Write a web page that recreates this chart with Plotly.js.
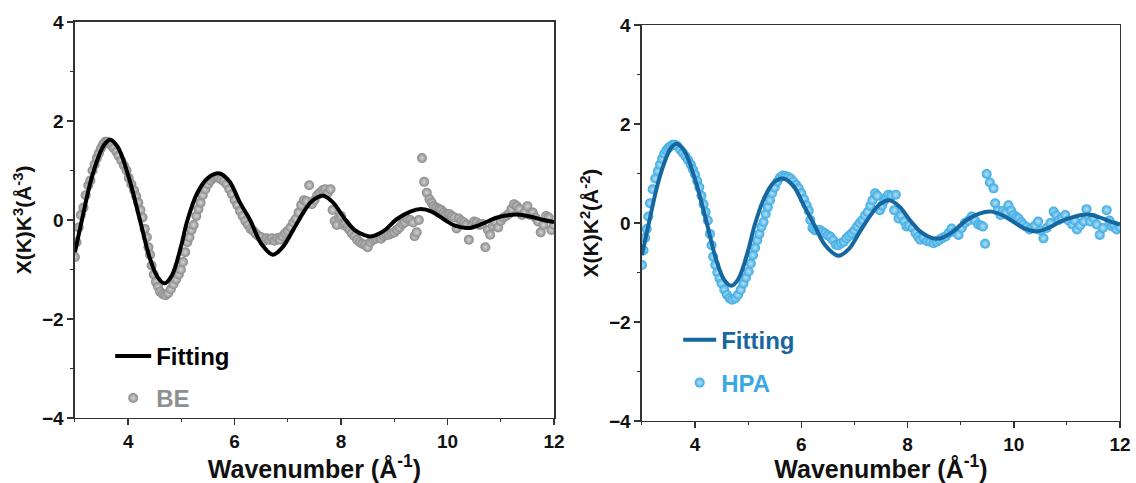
<!DOCTYPE html>
<html>
<head>
<meta charset="utf-8">
<script src="https://cdn.plot.ly/plotly-3.0.1.min.js"></script>
<style>html,body{margin:0;padding:0;background:#fff;}#chart{width:1136px;height:483px;}</style>
</head>
<body>
<div id="chart"></div>
<script>
// ---- Left panel: BE (k^3 weighted) ----
const beK = [3.00,3.03,3.07,3.11,3.16,3.20,3.25,3.29,3.33,3.37,3.41,3.45,3.49,3.53,3.57,3.61,3.65,3.69,3.73,3.78,3.82,3.87,3.92,3.97,4.01,4.06,4.11,4.15,4.19,4.23,4.27,4.31,4.35,4.38,4.41,4.44,4.48,4.52,4.56,4.60,4.65,4.70,4.75,4.80,4.85,4.90,4.95,4.99,5.03,5.07,5.11,5.15,5.19,5.23,5.28,5.32,5.36,5.40,5.45,5.50,5.55,5.60,5.65,5.70,5.75,5.80,5.85,5.90,5.95,6.00,6.05,6.10,6.15,6.20,6.25,6.30,6.35,6.40,6.45,6.50,6.55,6.60,6.65,6.70,6.75,6.80,6.85,6.90,6.95,7.00,7.05,7.10,7.15,7.20,7.25,7.30,7.35,7.40,7.45,7.50,7.55,7.60,7.65,7.70,7.75,7.80,7.84,7.88,7.92,7.96,8.00,8.04,8.08,8.12,8.16,8.20,8.25,8.30,8.35,8.40,8.45,8.50,8.55,8.60,8.65,8.70,8.75,8.80,8.85,8.90,8.95,9.00,9.05,9.10,9.15,9.20,9.25,9.30,9.35,9.38,9.42,9.46,9.52,9.56,9.61,9.66,9.70,9.74,9.79,9.84,9.88,9.93,9.98,10.03,10.08,10.13,10.17,10.21,10.26,10.31,10.35,10.40,10.45,10.50,10.55,10.60,10.65,10.71,10.76,10.80,10.85,10.90,10.95,11.00,11.05,11.10,11.15,11.20,11.25,11.30,11.35,11.40,11.45,11.50,11.55,11.60,11.65,11.70,11.75,11.80,11.85,11.90,11.95,12.00];
const beChi = [-0.75,-0.45,-0.15,0.10,0.25,0.50,0.70,0.80,1.00,1.12,1.25,1.35,1.45,1.53,1.58,1.58,1.55,1.50,1.45,1.38,1.30,1.20,1.10,1.00,0.85,0.72,0.60,0.48,0.35,0.20,0.05,-0.18,-0.35,-0.55,-0.70,-0.92,-1.10,-1.25,-1.35,-1.45,-1.50,-1.52,-1.48,-1.40,-1.30,-1.20,-1.10,-1.00,-0.85,-0.65,-0.45,-0.35,-0.20,-0.10,0.08,0.22,0.35,0.50,0.62,0.72,0.80,0.85,0.87,0.85,0.82,0.78,0.72,0.62,0.52,0.40,0.30,0.18,0.08,-0.02,-0.10,-0.18,-0.22,-0.28,-0.33,-0.35,-0.42,-0.37,-0.40,-0.37,-0.42,-0.37,-0.40,-0.33,-0.27,-0.22,-0.15,-0.05,0.02,0.15,0.30,0.40,0.38,0.70,0.32,0.40,0.50,0.55,0.60,0.62,0.55,0.62,0.20,-0.02,-0.10,0.05,0.08,-0.10,-0.08,-0.15,-0.20,-0.27,-0.33,-0.40,-0.45,-0.48,-0.50,-0.55,-0.45,-0.40,-0.38,-0.35,-0.38,-0.33,-0.30,-0.30,-0.27,-0.25,-0.20,-0.15,-0.08,-0.05,0.02,0.00,-0.05,-0.33,-0.25,0.00,1.25,0.77,0.55,0.42,0.35,0.28,0.25,0.22,0.20,0.15,0.12,0.12,0.08,0.05,-0.17,0.03,-0.02,-0.05,-0.10,-0.40,-0.10,-0.03,-0.05,-0.10,-0.08,-0.55,-0.20,-0.30,-0.12,-0.05,-0.15,-0.02,0.05,0.08,0.12,0.22,0.32,0.28,0.22,0.10,0.15,0.28,0.10,0.15,0.05,-0.03,-0.25,-0.10,0.08,0.05,-0.20,-0.10];
const beFitK = [3.00,3.13,3.30,3.45,3.55,3.66,3.80,4.00,4.22,4.40,4.55,4.68,4.82,5.00,5.10,5.30,5.50,5.72,5.90,6.10,6.29,6.50,6.72,6.90,7.10,7.29,7.45,7.66,7.85,8.05,8.25,8.45,8.58,8.80,9.05,9.30,9.50,9.70,9.95,10.15,10.40,10.65,10.90,11.10,11.30,11.55,11.80,12.00];
const beFitChi = [-0.65,0.00,0.80,1.30,1.52,1.62,1.48,0.90,0.00,-0.75,-1.15,-1.28,-1.12,-0.50,-0.05,0.55,0.85,0.94,0.78,0.35,0.00,-0.48,-0.70,-0.55,-0.20,0.15,0.38,0.49,0.35,0.05,-0.20,-0.31,-0.33,-0.22,0.02,0.17,0.22,0.17,0.00,-0.12,-0.16,-0.08,0.04,0.09,0.11,0.07,0.00,-0.04];

// ---- Right panel: HPA (k^2 weighted) ----
const hpaK = [3.00,3.03,3.06,3.09,3.12,3.15,3.20,3.25,3.30,3.34,3.38,3.42,3.46,3.50,3.54,3.58,3.62,3.67,3.72,3.77,3.82,3.87,3.92,3.96,4.00,4.04,4.08,4.12,4.16,4.20,4.24,4.28,4.31,4.34,4.38,4.42,4.46,4.50,4.55,4.60,4.65,4.70,4.76,4.81,4.86,4.91,4.96,5.01,5.05,5.09,5.13,5.17,5.21,5.25,5.29,5.33,5.37,5.41,5.45,5.50,5.55,5.60,5.65,5.70,5.75,5.80,5.85,5.90,5.95,6.00,6.05,6.10,6.14,6.17,6.21,6.25,6.30,6.35,6.40,6.45,6.50,6.55,6.60,6.65,6.70,6.75,6.80,6.85,6.90,6.95,7.00,7.05,7.10,7.15,7.20,7.25,7.30,7.34,7.39,7.43,7.48,7.52,7.56,7.60,7.64,7.70,7.75,7.78,7.83,7.88,7.94,7.98,8.03,8.10,8.15,8.20,8.24,8.30,8.37,8.43,8.49,8.55,8.60,8.66,8.72,8.78,8.83,8.90,8.96,9.02,9.08,9.15,9.21,9.27,9.33,9.38,9.42,9.46,9.49,9.55,9.62,9.65,9.70,9.75,9.80,9.85,9.90,9.95,10.00,10.05,10.09,10.14,10.18,10.24,10.30,10.35,10.40,10.46,10.51,10.56,10.62,10.69,10.75,10.80,10.85,10.91,10.97,11.03,11.10,11.15,11.19,11.25,11.32,11.37,11.44,11.50,11.56,11.62,11.68,11.75,11.80,11.85,11.90,11.94,12.00];
const hpaChi = [-0.85,-0.55,-0.30,-0.12,0.13,0.40,0.68,0.90,1.05,1.18,1.30,1.40,1.47,1.52,1.55,1.58,1.58,1.55,1.48,1.42,1.35,1.27,1.18,1.08,0.98,0.85,0.72,0.55,0.38,0.22,0.05,-0.22,-0.45,-0.68,-0.85,-1.00,-1.12,-1.22,-1.35,-1.45,-1.52,-1.55,-1.52,-1.45,-1.35,-1.22,-1.10,-0.98,-0.82,-0.65,-0.50,-0.35,-0.22,-0.08,0.02,0.18,0.32,0.46,0.60,0.72,0.84,0.92,0.96,0.95,0.93,0.90,0.84,0.77,0.70,0.60,0.48,0.36,0.25,0.06,-0.10,-0.14,-0.15,-0.14,-0.18,-0.21,-0.25,-0.28,-0.35,-0.44,-0.45,-0.41,-0.38,-0.31,-0.26,-0.21,-0.15,-0.07,0.00,0.06,0.15,0.22,0.35,0.46,0.60,0.55,0.26,0.35,0.45,0.52,0.57,0.55,0.26,0.57,0.09,0.15,0.03,-0.07,-0.05,-0.10,-0.20,-0.28,-0.34,-0.30,-0.37,-0.38,-0.41,-0.38,-0.34,-0.30,-0.27,-0.20,-0.11,-0.18,-0.24,-0.10,0.00,0.05,0.13,0.05,-0.03,-0.05,-0.07,-0.42,0.99,0.82,0.70,0.40,0.25,0.16,0.25,0.20,0.36,0.25,0.16,0.12,0.09,0.02,-0.03,-0.08,-0.13,-0.10,-0.05,0.03,-0.15,-0.31,-0.10,0.00,0.23,0.15,0.06,0.10,0.16,0.05,-0.03,0.05,-0.13,-0.05,0.03,0.28,0.03,0.10,-0.03,-0.24,-0.10,0.26,0.05,-0.07,-0.05,-0.13,-0.08];
const hpaFitK = [3.00,3.13,3.30,3.45,3.55,3.65,3.80,4.00,4.22,4.40,4.55,4.68,4.82,5.00,5.12,5.30,5.48,5.66,5.85,6.05,6.25,6.45,6.70,6.90,7.10,7.30,7.48,7.66,7.85,8.05,8.25,8.45,8.62,8.85,9.10,9.35,9.58,9.80,10.00,10.20,10.43,10.65,10.90,11.15,11.38,11.60,11.80,12.00];
const hpaFitChi = [-0.65,0.00,0.80,1.30,1.52,1.60,1.45,0.88,0.00,-0.75,-1.15,-1.27,-1.12,-0.55,-0.05,0.50,0.82,0.90,0.75,0.35,-0.05,-0.45,-0.66,-0.52,-0.18,0.15,0.38,0.46,0.33,0.05,-0.18,-0.30,-0.31,-0.18,0.05,0.19,0.23,0.15,0.02,-0.11,-0.17,-0.10,0.04,0.13,0.17,0.12,0.04,-0.03];

const xTickVals = [4,6,8,10,12];
const yTickVals = [-4,-2,0,2,4];
const yTickText = ['\u22124','\u22122','0','2','4'];

const FONT = 'Liberation Sans, Arial, sans-serif';
const BLACK = '#111111';

const traces = [
  {x: beFitK, y: beFitChi, type:'scatter', mode:'lines', name:'Fitting', xaxis:'x', yaxis:'y', legend:'legend',
   line:{color:'#000000', width:4, shape:'spline', smoothing:1}},
  {x: beK, y: beChi, type:'scatter', mode:'markers', name:'BE', xaxis:'x', yaxis:'y', legend:'legend2',
   marker:{color:'#8a8a8a', size:10, gradient:{type:'radial', color:'#d4d4d4'}, line:{width:0}}},
  {x: hpaFitK, y: hpaFitChi, type:'scatter', mode:'lines', name:'Fitting', xaxis:'x2', yaxis:'y2', legend:'legend3',
   line:{color:'#16679f', width:4, shape:'spline', smoothing:1}},
  {x: hpaK, y: hpaChi, type:'scatter', mode:'markers', name:'HPA', xaxis:'x2', yaxis:'y2', legend:'legend4',
   marker:{color:'#3aa9e2', size:10, gradient:{type:'radial', color:'#b5e2f8'}, line:{width:0}}}
];
// draw markers below fit lines
const ordered = [traces[1], traces[0], traces[3], traces[2]];

function xax(domain, anchor){
  return {domain: domain, anchor: anchor, range:[3,12], tickvals: xTickVals, ticks:'outside', ticklen:6, tickwidth:1.5,
    tickcolor:'#333', showline:true, linecolor:'#333', linewidth:1.5, mirror:true, showgrid:false, zeroline:false,
    tickfont:{family:FONT, size:19, color:BLACK, weight:'bold'},
    minor:{dtick:1, tick0:3, ticks:'outside', ticklen:3, tickcolor:'#333', tickwidth:1},
    title:{text:'Wavenumber (\u00c5<sup>-1</sup>)', font:{family:FONT, size:25, color:BLACK, weight:'bold'}, standoff:4}};
}
function yax(domain, anchor, title){
  return {domain: domain, anchor: anchor, range:[-4,4], tickvals: yTickVals, ticktext: yTickText, ticks:'outside', ticklen:6, tickwidth:1.5,
    tickcolor:'#333', showline:true, linecolor:'#333', linewidth:1.5, mirror:true, showgrid:false, zeroline:false,
    tickfont:{family:FONT, size:19, color:BLACK, weight:'bold'},
    minor:{dtick:1, tick0:-4, ticks:'outside', ticklen:3, tickcolor:'#333', tickwidth:1},
    title:{text:title, font:{family:FONT, size:21, color:BLACK, weight:'bold'}, standoff:4}};
}
function leg(x, y, color, iw){
  return {x:x, y:y, xanchor:'left', yanchor:'middle', bgcolor:'rgba(0,0,0,0)', borderwidth:0,
    font:{family:FONT, size:24, color:color, weight:'bold'}, itemwidth:iw, tracegroupgap:0};
}

const layout = {
  width:1136, height:483, margin:{l:0, r:0, t:0, b:0}, paper_bgcolor:'#ffffff', plot_bgcolor:'#ffffff',
  showlegend:true,
  xaxis: xax([0.066, 0.4877], 'y'),
  yaxis: yax([0.1346, 0.9545], 'x', 'X(K)K<sup>3</sup>(\u00c5<sup>-3</sup>)'),
  xaxis2: xax([0.5651, 0.9859], 'y2'),
  yaxis2: yax([0.1284, 0.9482], 'x2', 'X(K)K<sup>2</sup>(\u00c5<sup>-2</sup>)'),
  legend: leg(0.097, 0.262, '#000000', 36),
  legend2: leg(0.097, 0.175, '#8f8f8f', 36),
  legend3: leg(0.597, 0.296, '#16679f', 33),
  legend4: leg(0.597, 0.207, '#3aa9e2', 33)
};

Plotly.newPlot('chart', ordered, layout, {staticPlot:true, displayModeBar:false});
</script>
</body>
</html>
